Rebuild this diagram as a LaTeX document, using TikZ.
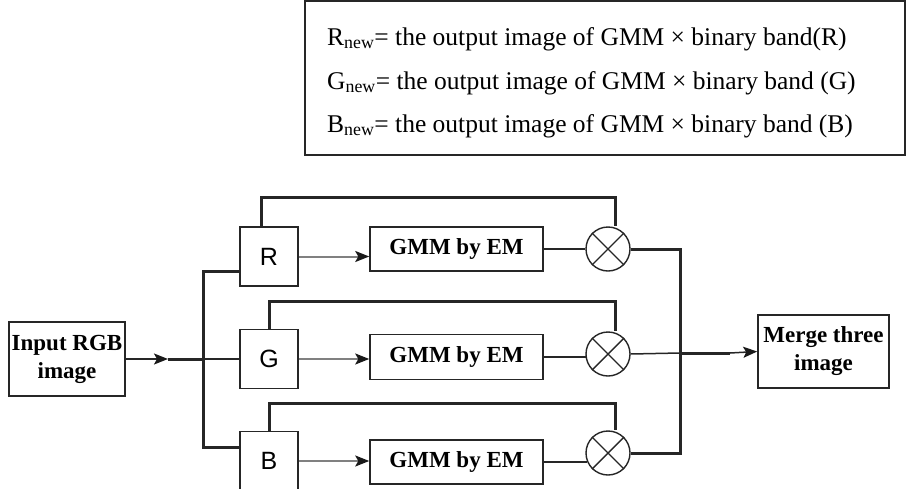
\documentclass[tikz,border=0pt]{standalone}
\usepackage{fontspec}
\setmainfont{Liberation Serif}
\setsansfont{Liberation Sans}
\usetikzlibrary{arrows.meta}
\begin{document}
\begin{tikzpicture}[x=1pt,y=-1pt,
  box/.style={draw=black!85, line width=1.5pt, inner sep=0pt, font=\fontsize{23}{28}\selectfont\bfseries, align=center},
  chan/.style={draw=black!85, line width=1.5pt, inner sep=0pt, minimum width=58pt, minimum height=59pt, font=\sffamily\fontsize{25}{28}\selectfont},
  mult/.style={draw=black!85, line width=1.4pt, circle, minimum size=44pt, inner sep=0pt},
  bus/.style={draw=black!85, line width=3pt},
  thinl/.style={draw=black!85, line width=1.5pt},
  grayl/.style={draw=black!50, line width=2pt},
  tip/.style={-{Stealth[length=14pt,width=11pt,inset=3pt,black!90]}},
  note/.style={font=\fontsize{25.5}{28}\selectfont, anchor=base west, inner sep=0pt}
]
\useasboundingbox (0,0) rectangle (906,488);
% legend box
\draw[line width=1.5pt, draw=black!85] (305,1) rectangle (905,155);
\node[note] (l1) at (327,45) {R\textsubscript{new}= the output image of GMM × binary band(R)};
\node[note] (l2) at (327,89) {G\textsubscript{new}= the output image of GMM × binary band (G)};
\node[note] (l3) at (327,132) {B\textsubscript{new}= the output image of GMM × binary band (B)};

% nodes
\node[box, minimum width=116pt, minimum height=74pt] (in) at (67,359) {Input RGB\\image};
\node[chan] (R) at (269,256.5) {R};
\node[chan] (G) at (269,359) {G};
\node[chan] (B) at (269,461) {B};
\node[box, minimum width=173pt, minimum height=44pt] (gR) at (456.5,249) {GMM by EM};
\node[box, minimum width=173pt, minimum height=45pt] (gG) at (456.5,357) {GMM by EM};
\node[box, minimum width=173pt, minimum height=44pt] (gB) at (456.5,462) {GMM by EM};
\node[mult] (cR) at (608,249) {};
\node[mult] (cG) at (608,354) {};
\node[mult] (cB) at (608,453) {};
\foreach \c in {cR,cG,cB}{
  \draw[line width=1.4pt, black!85] (\c.north west) -- (\c.south east);
  \draw[line width=1.4pt, black!85] (\c.north east) -- (\c.south west);
}
\node[box, minimum width=131pt, minimum height=73pt] (mg) at (823.5,351.5) {Merge three\\image};

% coordinates
\coordinate (a) at (168,359);
\coordinate (j) at (203,359);
\coordinate (jR) at (203,271);
\coordinate (jB) at (203,447);
\coordinate (tR) at (615,197);
\coordinate (tG) at (615,301);
\coordinate (tB) at (615,403);
\coordinate (k) at (680,353);
\coordinate (m) at (730,353);

% input split
\draw[thinl, tip] (in.east) -- (a);
\draw[bus] (a) -- (j);
\draw[bus] (R.west |- jR) -- (jR) -- (jB) -- (B.west |- jB);
\draw[thinl] (j) -- (G.west);

% channel to GMM
\draw[grayl, tip] (R.east) -- (R.east -| gR.west);
\draw[grayl, tip] (G.east) -- (G.east -| gG.west);
\draw[grayl, tip] (B.east) -- (B.east -| gB.west);

% GMM to multiplier
\draw[thinl] (gR.east) -- (cR.west);
\draw[thinl] (gG.east) -- ([xshift=0.5pt]gG.east -| cG.west);
\draw[thinl] (gB.east) -- ([xshift=1.5pt]gB.east -| cB.west);

% bypass loops
\draw[bus] ([xshift=-8pt]R.north) |- (tR) -- (tR |- cR.north);
\draw[bus] (G.north) |- (tG) -- (tG |- cG.north);
\draw[bus] (B.north) |- (tB) -- (tB |- cB.north);

% merge
\draw[bus] (cR.east) -| (k) -- (k |- cB.east) -- (cB.east);
\draw[thinl] (cG.east) -- (k);
\draw[bus] (k) -- (m);
\draw[thinl, tip] (m) -- (mg.west);
\end{tikzpicture}
\end{document}
